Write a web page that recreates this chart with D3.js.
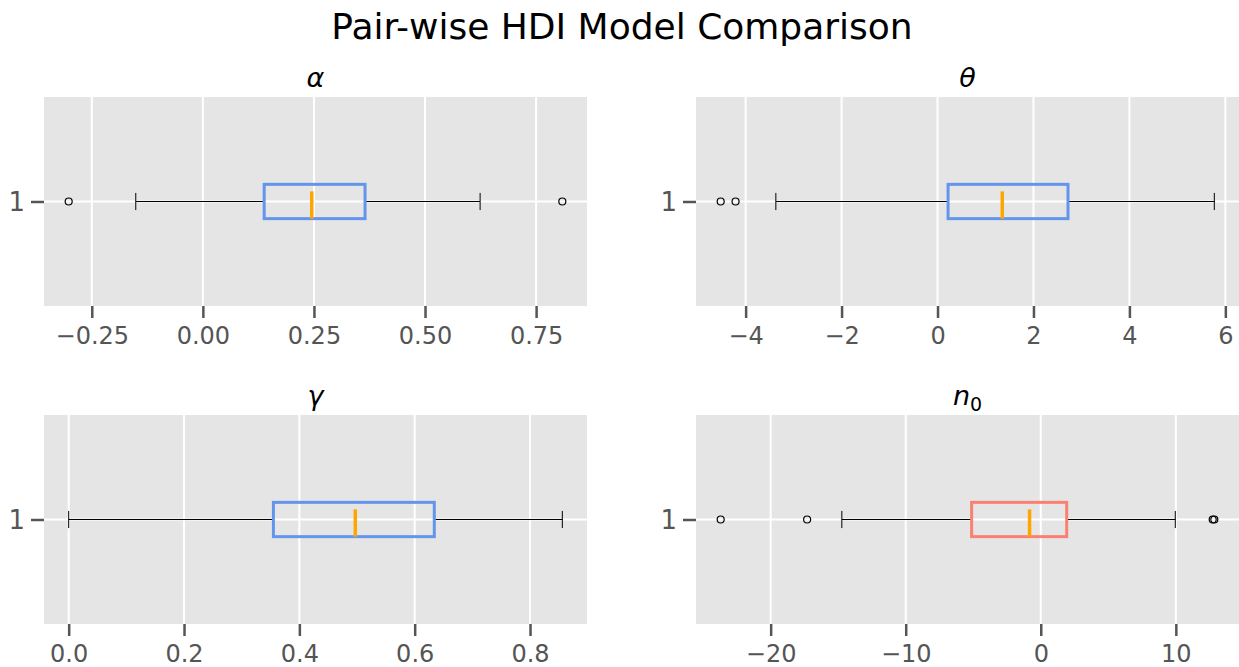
<!DOCTYPE html>
<html>
<head>
<meta charset="utf-8">
<script src="https://cdn.jsdelivr.net/npm/d3@7"></script>
<style>
  body { margin: 0; background: #fff; }
  svg, svg text { font-family: "DejaVu Sans", sans-serif; }
  .tick text { fill: #555; font-size: 24px; }
  .tick line { stroke: #555; }
</style>
</head>
<body>
<div id="chart"></div>
<script>
// data, one box per panel
const panelTitles = ["α", "θ", "γ", "n"];
const whiskerLo = [-0.151, -3.37, 0.0, -14.73];
const q1 = [0.138, 0.22, 0.355, -5.12];
const medians = [0.245, 1.35, 0.497, -0.83];
const q3 = [0.365, 2.72, 0.634, 1.92];
const whiskerHi = [0.624, 5.77, 0.856, 9.96];
const outliers = [[-0.302, 0.809], [-4.52, -4.21], [], [-23.7, -17.3, 12.73, 12.85]];
const xTicks = [[-0.25, 0, 0.25, 0.5, 0.75], [-4, -2, 0, 2, 4, 6], [0, 0.2, 0.4, 0.6, 0.8], [-20, -10, 0, 10]];
const tickFormats = [".2f", "d", ".1f", "d"];
const boxColors = ["#6495ED", "#6495ED", "#6495ED", "#FA8072"];

const width = 1239, height = 667;
const panelW = 543, panelH = 209;
const cols = [44, 696], rows = [97, 415];

const svg = d3.select("#chart").append("svg")
  .attr("width", width)
  .attr("height", height);

svg.append("text")
  .attr("x", 622).attr("y", 39)
  .attr("text-anchor", "middle")
  .attr("font-size", 36)
  .attr("fill", "#000")
  .text("Pair-wise HDI Model Comparison");

panelTitles.forEach((title, i) => {
  const left = cols[i % 2], top = rows[Math.floor(i / 2)];
  const g = svg.append("g").attr("transform", `translate(${left},${top})`);

  // matplotlib-like 5% padding around the data
  const lo = d3.min([whiskerLo[i], ...outliers[i]]);
  const hi = d3.max([whiskerHi[i], ...outliers[i]]);
  const pad = (hi - lo) * 0.05;

  const x = d3.scaleLinear().domain([lo - pad, hi + pad]).range([0, panelW]);
  const y = d3.scaleLinear().domain([0.5, 1.5]).range([panelH, 0]);

  g.append("rect")
    .attr("width", panelW).attr("height", panelH)
    .attr("fill", "#E5E5E5");

  // grid
  g.selectAll(".vgrid").data(xTicks[i]).join("line")
    .attr("class", "vgrid")
    .attr("x1", d => x(d)).attr("x2", d => x(d))
    .attr("y1", 0).attr("y2", panelH)
    .attr("stroke", "#fff").attr("stroke-width", 2);
  g.append("line")
    .attr("x1", 0).attr("x2", panelW)
    .attr("y1", y(1)).attr("y2", y(1))
    .attr("stroke", "#fff").attr("stroke-width", 2);

  // axes
  const xAxis = d3.axisBottom(x).tickValues(xTicks[i])
    .tickFormat(d3.format(tickFormats[i])).tickSize(12).tickPadding(9);
  const gx = g.append("g").attr("transform", `translate(0,${panelH})`).call(xAxis)
    .attr("font-family", null);
  gx.select(".domain").remove();
  gx.selectAll(".tick line").attr("stroke-width", 2.5);

  const yAxis = d3.axisLeft(y).tickValues([1]).tickFormat(d3.format("d"))
    .tickSize(13).tickPadding(6);
  const gy = g.append("g").call(yAxis).attr("font-family", null);
  gy.select(".domain").remove();
  gy.selectAll(".tick line").attr("stroke-width", 2.5);
  gy.selectAll(".tick text").style("font-size", "26px").attr("dy", "0.36em");

  // box
  const half = 0.082;
  const cy = y(1);
  g.append("line")
    .attr("x1", x(whiskerLo[i])).attr("x2", x(q1[i]))
    .attr("y1", cy).attr("y2", cy)
    .attr("stroke", "#000").attr("stroke-width", 1);
  g.append("line")
    .attr("x1", x(q3[i])).attr("x2", x(whiskerHi[i]))
    .attr("y1", cy).attr("y2", cy)
    .attr("stroke", "#000").attr("stroke-width", 1);
  [whiskerLo[i], whiskerHi[i]].forEach(v => {
    g.append("line")
      .attr("x1", x(v)).attr("x2", x(v))
      .attr("y1", y(1 + half / 2)).attr("y2", y(1 - half / 2))
      .attr("stroke", "#000").attr("stroke-width", 1);
  });
  g.append("rect")
    .attr("x", x(q1[i])).attr("y", y(1 + half))
    .attr("width", x(q3[i]) - x(q1[i]))
    .attr("height", y(1 - half) - y(1 + half))
    .attr("fill", "none")
    .attr("stroke", boxColors[i]).attr("stroke-width", 3);
  g.append("line")
    .attr("x1", x(medians[i])).attr("x2", x(medians[i]))
    .attr("y1", y(1 + half) + 7).attr("y2", y(1 - half))
    .attr("stroke", "#FFA500").attr("stroke-width", 3.5);

  g.selectAll(".flier").data(outliers[i]).join("circle")
    .attr("class", "flier")
    .attr("cx", d => x(d)).attr("cy", cy)
    .attr("r", 3.5)
    .attr("fill", "none").attr("stroke", "#000").attr("stroke-width", 1.2);

  // subplot title
  const t = g.append("text")
    .attr("x", panelW / 2).attr("y", -10)
    .attr("text-anchor", "middle")
    .attr("font-size", 27)
    .attr("font-style", "italic")
    .text(title);
  if (title === "n") {
    t.append("tspan").attr("font-style", "normal").attr("font-size", 19)
      .attr("dy", 6).text("0");
  }
});
</script>
</body>
</html>
